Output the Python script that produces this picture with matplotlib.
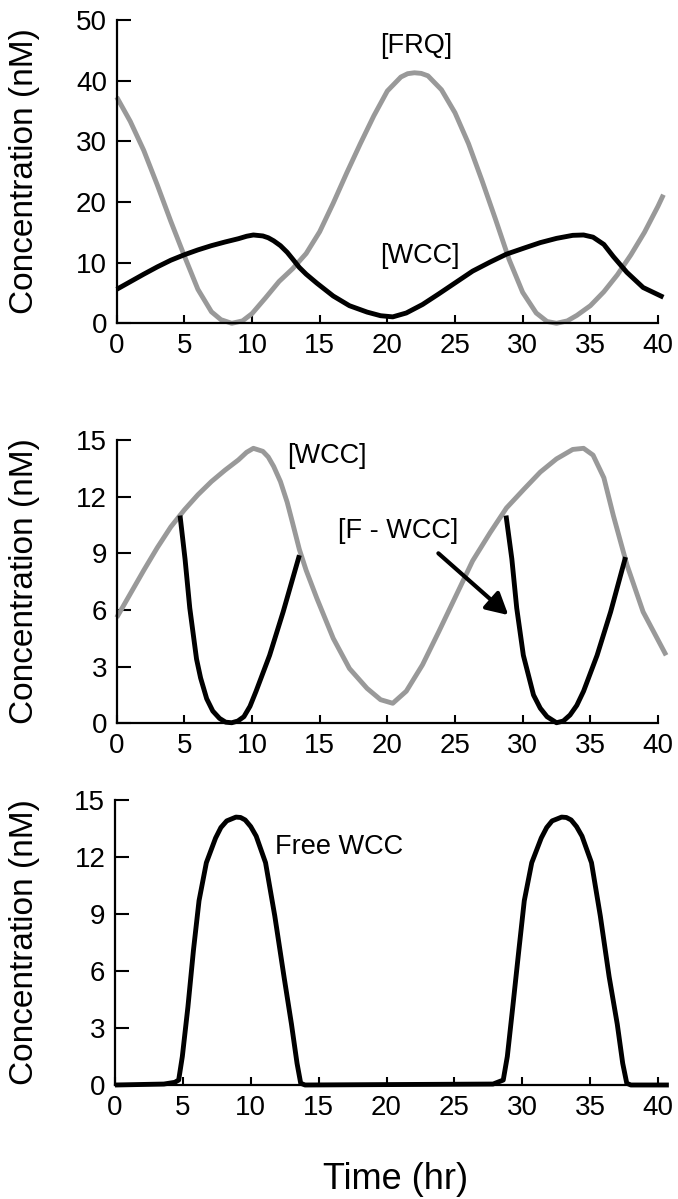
import matplotlib
matplotlib.use("Agg")
import matplotlib.pyplot as plt

plt.rcParams['font.family'] = ['Liberation Sans', 'DejaVu Sans']

GRAY = '#999999'

# --- panel 1: [FRQ] (gray) and total [WCC] (black), nM vs hr
frq_t = [0, 1, 2, 3, 4, 5, 6, 7, 7.7, 8.5, 9.3, 10, 11, 12, 13, 14, 15, 16, 17, 18,
         19, 20, 21, 21.5, 22, 22.5, 23, 24, 25, 26, 27, 28, 29, 30, 31, 31.8, 32.5,
         33.3, 34, 35, 36, 37, 38, 39, 40, 40.4]
frq = [37.3, 33.3, 28.5, 22.8, 16.8, 11.1, 5.6, 1.9, 0.6, 0.0, 0.4, 1.6, 4.2, 6.9,
       9.0, 11.5, 15.1, 19.8, 24.8, 29.6, 34.2, 38.3, 40.6, 41.15, 41.3, 41.2, 40.8,
       38.5, 34.7, 29.6, 23.5, 17.1, 10.5, 5.1, 1.7, 0.3, 0.0, 0.4, 1.3, 2.9, 5.2,
       8.0, 11.3, 15.0, 19.3, 21.2]

# total WCC (black in panel 1, gray in panel 2)
wcc_t = [0, 1, 2, 3, 4, 5, 6, 7, 8, 9, 9.6, 10.1, 10.8, 11.2, 11.6, 12.1, 12.6, 13,
         13.5, 14, 14.8, 16, 17.2, 18.5, 19.5, 20.4, 21.4, 22.6, 23.8, 25.1, 26.3,
         27.6, 28.8, 30.1, 31.3, 32.5, 33.7, 34.5, 35.2, 36.0, 36.7, 37.7, 38.9, 40.6]
wcc = [5.6, 6.85, 8.1, 9.3, 10.4, 11.3, 12.1, 12.8, 13.4, 13.95, 14.35, 14.56, 14.4,
       14.1, 13.6, 12.8, 11.7, 10.6, 9.2, 8.1, 6.6, 4.5, 2.9, 1.85, 1.25, 1.06, 1.7,
       3.1, 4.85, 6.8, 8.6, 10.1, 11.4, 12.4, 13.3, 14.0, 14.5, 14.56, 14.2, 13.0,
       11.0, 8.4, 5.9, 3.6]

# --- panel 2: [F - WCC] complex, two segments
fwcc_t1 = [4.68, 5.05, 5.4, 5.9, 6.2, 6.65, 7.1, 7.6, 8.05, 8.5, 8.95, 9.4, 9.85,
           10.3, 11.3, 12.3, 13.5]
fwcc_1 = [11.0, 8.7, 6.1, 3.4, 2.4, 1.3, 0.65, 0.26, 0.06, 0.03, 0.12, 0.35, 0.9,
          1.7, 3.6, 5.9, 8.9]
fwcc_t2 = [28.77, 29.2, 29.56, 30.05, 30.8, 31.3, 31.8, 32.5, 33.0, 33.5, 34.0, 34.5,
           35.5, 36.5, 37.6]
fwcc_2 = [11.0, 8.7, 6.1, 3.6, 1.5, 0.8, 0.35, 0.03, 0.12, 0.44, 0.95, 1.7, 3.6, 5.9,
          8.8]

# --- panel 3: free WCC
free_t = [0, 3.6, 4.4, 4.69, 4.96, 5.37, 5.78, 6.19, 6.73, 7.41, 7.8, 8.23, 8.91,
          9.25, 9.59, 10.0, 10.4, 11.09, 11.77, 12.45, 13.0, 13.41, 13.68, 14.0,
          27.85, 28.6, 28.9, 29.3, 29.75, 30.15, 30.7, 31.4, 31.8, 32.2, 32.9, 33.25,
          33.6, 34.0, 34.4, 35.1, 35.75, 36.4, 37.0, 37.4, 37.7, 38.0, 40.8]
free = [0, 0.05, 0.14, 0.26, 1.5, 4.1, 7.1, 9.7, 11.7, 13.0, 13.55, 13.9, 14.1,
        14.08, 13.95, 13.6, 13.1, 11.7, 8.9, 5.7, 3.2, 1.14, 0.09, 0,
        0.05, 0.26, 1.5, 4.1, 7.1, 9.7, 11.7, 13.0, 13.55, 13.9, 14.1, 14.08,
        13.95, 13.6, 13.1, 11.7, 8.9, 5.7, 3.2, 1.14, 0.09, 0, 0]

x_ticks = [0, 5, 10, 15, 20, 25, 30, 35, 40]
y1_ticks = [0, 10, 20, 30, 40, 50]
y23_ticks = [0, 3, 6, 9, 12, 15]

W, H = 678, 1199
fig = plt.figure(figsize=(W / 100, H / 100), dpi=100)
ax1 = fig.add_axes([116.7 / W, 1 - 323.3 / H, 541.3 / W, 303.3 / H])
ax2 = fig.add_axes([116.7 / W, 1 - 723.3 / H, 541.3 / W, 283.3 / H])
ax3 = fig.add_axes([115 / W, 1 - 1085 / H, 543 / W, 285 / H])

style = dict(lw=3.5, clip_on=False, solid_capstyle='butt', solid_joinstyle='round')
ax1.plot(frq_t, frq, color=GRAY, **style)
ax1.plot(wcc_t[:-1] + [40.4], wcc[:-1] + [4.3], color='k', **style)

ax2.plot(wcc_t, wcc, color=GRAY, **style)
ax2.plot(fwcc_t1, fwcc_1, color='k', **style)
ax2.plot(fwcc_t2, fwcc_2, color='k', **style)

ax3.plot(free_t, free, color='k', **style)

for ax, yt in [(ax1, y1_ticks), (ax2, y23_ticks), (ax3, y23_ticks)]:
    ax.set_xlim(0, 40)
    ax.set_ylim(yt[0], yt[-1])
    ax.set_xticks(x_ticks)
    ax.set_yticks(yt)
    for s in ['top', 'right']:
        ax.spines[s].set_visible(False)
    for s in ['left', 'bottom']:
        ax.spines[s].set_linewidth(1.6)
    ax.tick_params(axis='y', direction='in', length=10, width=1.5, labelsize=20, pad=7)
    ax.tick_params(axis='x', direction='in', length=5.5, width=1.5, labelsize=20, pad=7)
    ax.patch.set_visible(False)

# curve labels
ax1.text(22.1, 45.7, '[FRQ]', fontsize=19.5, ha='center', va='center')
ax1.text(22.4, 11.1, '[WCC]', fontsize=19.5, ha='center', va='center')
ax2.text(15.5, 14.15, '[WCC]', fontsize=19.5, ha='center', va='center')
ax2.text(20.8, 10.18, '[F - WCC]', fontsize=19.5, ha='center', va='center')
ax2.annotate('', xy=(28.94, 5.73), xytext=(23.77, 9.0),
             arrowprops=dict(arrowstyle='-|>,head_length=0.65,head_width=0.35',
                             lw=3, color='k', mutation_scale=20, shrinkA=0, shrinkB=0))
ax3.text(16.5, 12.5, 'Free WCC', fontsize=19.5, ha='center', va='center')

# axis titles
for yc in [171.5, 581.5, 942.5]:
    fig.text(25 / W, 1 - yc / H, 'Concentration (nM)', rotation=90, fontsize=24,
             ha='center', va='center')
fig.text(396 / W, 1 - 1189 / H, 'Time (hr)', fontsize=26, ha='center', va='baseline')

fig.savefig('out.png', dpi=100)
